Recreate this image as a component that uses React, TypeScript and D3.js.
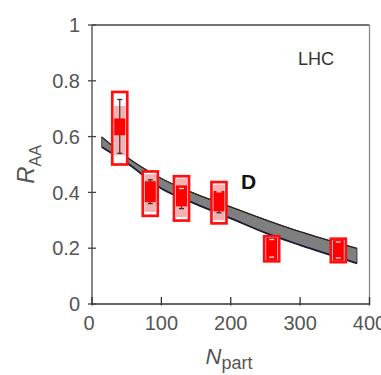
import React from "react";
import * as d3 from "d3";

// ---- data ----
const nPart = [40, 84, 129, 183, 259, 355];
const boxHi = [0.76, 0.475, 0.458, 0.437, 0.243, 0.234];
const boxLo = [0.5, 0.316, 0.299, 0.289, 0.153, 0.15];
const errHi = [0.733, 0.445, 0.414, 0.402, 0.231, 0.222];
const errLo = [0.54, 0.36, 0.342, 0.327, 0.168, 0.165];
const shadeHi = [0.71, 0.465, 0.45, 0.428, 0.238, 0.229];
const shadeLo = [0.533, 0.33, 0.312, 0.3, 0.158, 0.155];
const coreHi = [0.665, 0.44, 0.425, 0.405, 0.238, 0.229];
const coreLo = [0.605, 0.365, 0.35, 0.332, 0.158, 0.155];

const bandN = [14, 50, 100, 150, 200, 252, 300, 382];
const bandHi = [0.599, 0.527, 0.45, 0.394, 0.348, 0.3, 0.259, 0.199];
const bandLo = [0.563, 0.506, 0.414, 0.358, 0.307, 0.253, 0.211, 0.146];

const xTicks = [0, 100, 200, 300, 400];
const yTicks = [0, 0.2, 0.4, 0.6, 0.8, 1];
const yTickLabels = ["0", "0.2", "0.4", "0.6", "0.8", "1"];

const FONT = "'Liberation Sans', Arial, Helvetica, sans-serif";

export default function App() {
  const W = 381;
  const H = 375;
  const x = d3.scaleLinear().domain([0, 400]).range([92, 369.5]);
  const y = d3.scaleLinear().domain([0, 1]).range([304, 25]);

  const band = bandN.map((n, i) => ({ n, hi: bandHi[i], lo: bandLo[i] }));
  const area = d3
    .area<{ n: number; hi: number; lo: number }>()
    .x((d) => x(d.n))
    .y0((d) => y(d.lo))
    .y1((d) => y(d.hi))
    .curve(d3.curveMonotoneX);
  const upper = d3
    .line<{ n: number; hi: number; lo: number }>()
    .x((d) => x(d.n))
    .y((d) => y(d.hi))
    .curve(d3.curveMonotoneX);
  const lower = d3
    .line<{ n: number; hi: number; lo: number }>()
    .x((d) => x(d.n))
    .y((d) => y(d.lo))
    .curve(d3.curveMonotoneX);

  const boxW = 15;
  const innerW = 11;
  const capW = 5;

  return (
    <svg
      width={W}
      height={H}
      style={{ position: "absolute", left: 0, top: 0, background: "#fff" }}
      fontFamily={FONT}
    >
      {/* frame */}
      <line x1={x(0)} x2={x(400)} y1={y(1)} y2={y(1)} stroke="#444" strokeWidth={1.3} />
      <line x1={x(400)} x2={x(400)} y1={y(1)} y2={y(0)} stroke="#888" strokeWidth={1.3} />
      <line x1={x(0)} x2={x(0)} y1={y(1)} y2={y(0)} stroke="#444" strokeWidth={1.3} />
      <line x1={x(0)} x2={x(400)} y1={y(0)} y2={y(0)} stroke="#333" strokeWidth={1.5} />

      {/* y ticks */}
      {yTicks.map((t, i) => (
        <g key={"yt" + i}>
          <line x1={x(0) - 4} x2={x(0) + 4} y1={y(t)} y2={y(t)} stroke="#444" strokeWidth={1.3} />
          <text x={80} y={y(t)} dy="0.36em" textAnchor="end" fontSize={20} fill="#555">
            {yTickLabels[i]}
          </text>
        </g>
      ))}

      {/* x ticks */}
      {xTicks.map((t) => (
        <g key={"xt" + t}>
          <line x1={x(t)} x2={x(t)} y1={y(0) - 7} y2={y(0) + 1.5} stroke="#333" strokeWidth={1.3} />
          <text x={x(t) - (t === 0 ? 3 : 0)} y={330} textAnchor="middle" fontSize={20} fill="#555">
            {t}
          </text>
        </g>
      ))}

      {/* theory band */}
      <path d={area(band) || ""} fill="#7f7f7f" stroke="#2a2a2a" strokeWidth={0.8} />
      <path d={upper(band) || ""} fill="none" stroke="#2e2222" strokeWidth={1.3} />
      <path d={lower(band) || ""} fill="none" stroke="#1c1c38" strokeWidth={1.8} />

      {/* data points */}
      {nPart.map((n, i) => {
        const cx = x(n);
        const inCore = (v: number) => v <= coreHi[i] && v >= coreLo[i];
        return (
          <g key={"p" + i}>
            <rect
              x={cx - boxW / 2}
              y={y(boxHi[i])}
              width={boxW}
              height={y(boxLo[i]) - y(boxHi[i])}
              fill="#fff"
              stroke="#ff1010"
              strokeWidth={2.7}
            />
            <rect
              x={cx - innerW / 2}
              y={y(shadeHi[i])}
              width={innerW}
              height={y(shadeLo[i]) - y(shadeHi[i])}
              fill="#f6b0b0"
            />
            <line x1={cx} x2={cx} y1={y(errHi[i])} y2={y(errLo[i])} stroke="#4a3030" strokeWidth={1.2} />
            <rect
              x={cx - innerW / 2}
              y={y(coreHi[i])}
              width={innerW}
              height={y(coreLo[i]) - y(coreHi[i])}
              fill="#ff0000"
            />
            {[errHi[i], errLo[i]].map((v, k) => (
              <line
                key={k}
                x1={cx - capW / 2}
                x2={cx + capW / 2}
                y1={y(v)}
                y2={y(v)}
                stroke={inCore(v) ? "#f4dede" : "#333"}
                strokeWidth={1.3}
              />
            ))}
          </g>
        );
      })}

      {/* annotations */}
      <text x={298} y={65} fontSize={18} fill="#333">
        LHC
      </text>
      <text x={241} y={189} fontSize={21} fontWeight="bold" fill="#111">
        D
      </text>

      {/* axis titles */}
      <text transform="translate(34,164.5) rotate(-90)" textAnchor="middle" fill="#555">
        <tspan fontSize={24} fontStyle="italic">R</tspan>
        <tspan fontSize={16} dy={7}>AA</tspan>
      </text>
      <text x={229} y={364} textAnchor="middle" fill="#555">
        <tspan fontSize={22} fontStyle="italic">N</tspan>
        <tspan fontSize={18} dy={5}>part</tspan>
      </text>
    </svg>
  );
}
